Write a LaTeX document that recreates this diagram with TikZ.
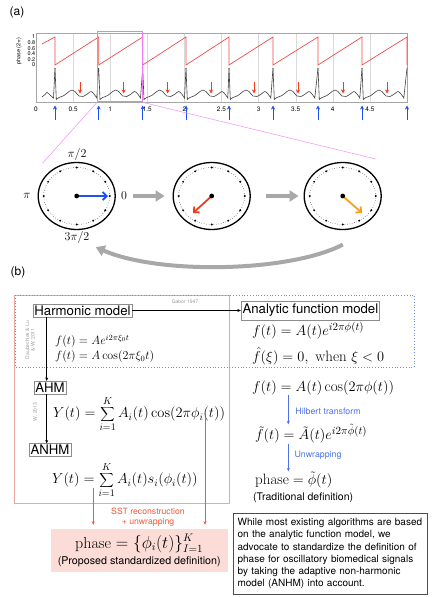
\documentclass[tikz,border=0pt]{standalone}
\usepackage{fontspec}
\setsansfont{TeX Gyre Heros}
\usetikzlibrary{arrows.meta,shapes.geometric}
\definecolor{sawred}{HTML}{EE4B4B}
\definecolor{ablue}{HTML}{1E4FF5}
\definecolor{ared}{HTML}{F03C1E}
\definecolor{aorange}{HTML}{F5A01E}
\definecolor{agray}{HTML}{A8A8A8}
\definecolor{mag}{HTML}{F07AF0}
\definecolor{magl}{HTML}{F59AF5}
\definecolor{dotblue}{HTML}{6F8EE6}
\definecolor{boxred}{HTML}{EBA79F}
\definecolor{pinkfill}{HTML}{FBDCD7}
\definecolor{sstred}{HTML}{EE5B3B}
\definecolor{hblue}{HTML}{4C72EA}
\definecolor{txtgray}{HTML}{9A9A9A}
\newcommand\mysize[2]{\fontsize{#1}{#2}\selectfont}
\begin{document}
\begin{tikzpicture}[x=1pt,y=-1pt,
  mbox/.style={draw=black!45, line width=0.5pt, inner sep=1.5pt, font=\sffamily\mysize{13.2}{15}},
  eqn/.style={anchor=west, inner sep=0pt},
  axlab/.style={font=\sffamily\mysize{6.5}{7}, inner sep=0pt},
  cite/.style={font=\sffamily\mysize{5}{5.5}, text=txtgray, inner sep=0pt, align=center},
  clock/.style={ellipse, draw, line width=1.3pt, minimum width=77pt, minimum height=67pt, inner sep=0pt},
  hand/.style={line width=1.8pt, -{Straight Barb[length=4pt,width=8pt]}},
  flow/.style={agray, line width=4pt, -{Triangle[length=9pt,width=11pt]}},
  uparr/.style={ablue, line width=1pt, -{Stealth[length=4pt,width=4pt]}},
  dnarr/.style={ared, line width=1pt, -{Stealth[length=4pt,width=4pt]}},
  ecg/.style={black!75, line width=0.6pt},
  saw/.style={sawred, line width=0.7pt},
  blk/.style={line width=0.5pt, -{Stealth[length=3.5pt,width=3pt]}},
  sst/.style={sstred, line width=0.6pt, -{Stealth[length=3.5pt,width=3pt]}},
  hil/.style={hblue, line width=0.6pt, -{Stealth[length=3.5pt,width=3pt]}}]
\useasboundingbox (0,0) rectangle (436,597);

% ---------- (a) ----------
\node[font=\sffamily\mysize{12}{14}] (la) at (17,12) {(a)};

% grid & frame
\foreach \v in {0,0.5,1,1.5,2,2.5,3,3.5,4,4.5,5}
  \draw[black!15, line width=0.3pt] ({36+74.2*\v},33) -- ({36+74.2*\v},102);
\draw[black!35, line width=0.4pt] (36,33) rectangle (407,102);

\foreach \v [count=\i] in {0,0.5,1,1.5,2,2.5,3,3.5,4,4.5}
  \node[axlab] (xt\i) at ({36+74.2*\v},109) {\v};
\foreach \v/\y [count=\i] in {1/37,0.8/42.6,0.6/48.2,0.4/53.8,0.2/59.4,0/65}
  \node[axlab, anchor=east, font=\sffamily\mysize{5.5}{6}] (yt\i) at (35.5,\y) {\v};
\node[rotate=90, font=\sffamily\mysize{5.5}{6}] (phl) at (19,51) {phase (2$\pi$)};

% sawtooth phase
\draw[saw] (42,44) -- (55,37) -- (55,65) -- (98.7,37) -- (98.7,65) -- (142.7,37) -- (142.7,65)
  -- (186,37) -- (186,65) -- (229,37) -- (229,65) -- (273,37) -- (273,65)
  -- (318,37) -- (318,65) -- (362,37) -- (362,65) -- (407,37) -- (407,65);

% ECG
\draw[ecg] plot[smooth, tension=0.6] coordinates {(42,97) (45,94.5) (47,92.5) (50,95) (53.5,98)} -- (55,68);
\foreach \a/\b in {55/98.7, 98.7/142.7, 142.7/186, 186/229, 229/273, 273/318, 318/362, 362/407}
  \draw[ecg] (\a,68) -- plot[smooth, tension=0.6] coordinates {({\a+1.3},99.5) ({\a+4},97.5) ({\a+9},95.5) ({\a+14},91.5) ({\a+17},90) ({\a+20},91.5) ({\a+24},96) ({\a+28},96.5) ({\a+33},93.5) ({\a+36},91.5) ({\a+39},94) ({\a+41.8},98)} -- (\b,68);

% arrows
\foreach \x [count=\i] in {55,98.7,142.7,186,229,273,318,362,407}
  \draw[uparr] (\x,119.5) -- (\x,105.5);
\foreach \x [count=\i] in {80,123.7,167.7,211,254,298,343,387}
  \draw[dnarr] (\x,82) -- (\x,93.5);

% zoom box
\node[draw=mag, line width=1.4pt, minimum width=44.6pt, minimum height=70pt, inner sep=0pt] (zb) at (120,66.7) {};
\coordinate (m1) at (42.7,163);
\coordinate (m2) at (375.7,159);
\draw[magl, line width=0.6pt] (zb.south west) -- (m1);
\draw[magl, line width=0.6pt] (zb.south east) -- (m2);

% clocks
\node[clock] (k1) at (76.7,196) {};
\node[clock] (k2) at (211.7,196) {};
\node[clock] (k3) at (342.7,196) {};
\foreach \k in {k1,k2,k3}{
  \begin{scope}[shift={(\k.center)}]
    \draw[dotted, line width=0.45pt] (0,0) ellipse (33pt and 28.5pt);
    \foreach \ang in {0,30,...,330}
      \fill (\ang:33 and 28.5) circle (1.1pt);
  \end{scope}
}
\node[font=\mysize{13}{15}] (lh) at (77,154) {$\pi/2$};
\node[font=\mysize{13}{15}] (l3h) at (77,237) {$3\pi/2$};
\node[font=\mysize{13}{15}] (lpi) at (27,196) {$\pi$};
\node[font=\mysize{13}{15}] (lz) at (124,196) {$0$};

\coordinate (h1) at (108,196);
\coordinate (h2) at (193,213);
\coordinate (h3) at (362,213);
\draw[hand, ablue] (k1.center) -- (h1);
\draw[hand, ared] (k2.center) -- (h2);
\draw[hand, aorange] (k3.center) -- (h3);
\foreach \k in {k1,k2,k3} \fill (\k.center) circle (2.4pt);

\draw[flow] ([xshift=17pt]k1.east) -- ([xshift=-8pt]k2.west);
\draw[flow] ([xshift=15pt]k2.east) -- ([xshift=-5pt]k3.west);
\draw[flow] ([yshift=-14.5pt]k3.south) .. controls (290,272) and (160,275) .. ([xshift=19pt,yshift=-17pt]k1.south);

% ---------- (b) ----------
\node[font=\sffamily\mysize{12}{14}] (lb) at (18,272) {(b)};

\draw[boxred, line width=0.6pt] (14.3,295.5) rectangle (229,503);
\draw[dotblue, dotted, line width=0.8pt] (15.7,295) rectangle (414,367);

\node[mbox] (hm) at (82.5,310.5) {Harmonic model};
\node[mbox, inner ysep=3pt] (afm) at (310.4,310.5) {Analytic function model};
\node[mbox] (ahm) at (50,387.5) {AHM};
\node[mbox] (anhm) at (50,450) {ANHM};

\draw[blk] (hm.east) -- (afm.west);
\node[cite] (gab) at (185,302) {Gabor 1947};
\draw[blk] ([xshift=-3.3pt]ahm.north |- hm.south) -- ([xshift=-3.3pt]ahm.north);
\draw[blk] ([xshift=-3.3pt]ahm.south) -- ([xshift=-3.3pt]anhm.north -| ahm.south);
\node[cite, rotate=90] (dl) at (30,340) {Daubechies \& Lu\\\& W. 2011};
\node[cite, rotate=90] (w13) at (35,412) {W. 2013};

\node[eqn, font=\mysize{12}{14}] (fa) at (55,341.5) {$f(t)=Ae^{i2\pi\xi_0t}$};
\node[eqn, font=\mysize{12}{14}] (fb) at (55,356.5) {$f(t)=A\cos(2\pi\xi_0t)$};
\node[eqn, font=\mysize{14.5}{17}] (y1) at (53,414) {$\displaystyle Y(t)=\sum_{i=1}^K A_i(t)\cos(2\pi\phi_i(t))$};
\node[eqn, font=\mysize{14.5}{17}] (y2) at (52,480) {$\displaystyle Y(t)=\sum_{i=1}^K A_i(t)s_i(\phi_i(t))$};

\node[fill=pinkfill, minimum width=177pt, minimum height=43pt, align=center, inner sep=0pt] (pb) at (139.2,550.5)
  {\mysize{16}{16}$\mathrm{phase}=\{\phi_i(t)\}_{I=1}^K$\\[3pt]{\sffamily\mysize{10.7}{12}(Proposed standardized definition)}};
\node[font=\sffamily\mysize{8.7}{10.3}, text=sstred, align=center] (sst) at (148,517) {SST reconstruction\\+ unwrapping};
\coordinate (s1) at (93.3,488);
\coordinate (s2) at (205,418);
\draw[sst, shorten >=4pt] (s1) -- (s1 |- pb.north);
\draw[sst, shorten >=4pt] (s2) -- (s2 |- pb.north);

% right column
\node[eqn, font=\mysize{15}{17}] (r1) at (252,331) {$f(t)=A(t)e^{i2\pi\phi(t)}$};
\node[eqn, font=\mysize{15}{17}] (r2) at (252,356) {$\hat f(\xi)=0,\ \mathrm{when}\ \xi<0$};
\node[eqn, font=\mysize{15}{17}] (r3) at (252,388) {$f(t)=A(t)\cos(2\pi\phi(t))$};
\node[eqn, font=\mysize{15}{17}] (r4) at (255,434) {$\tilde f(t)=\tilde A(t)e^{i2\pi\tilde\phi(t)}$};
\node[eqn, font=\mysize{15}{17}] (r5) at (255,480) {$\mathrm{phase}=\tilde\phi(t)$};
\node[eqn, font=\sffamily\mysize{10.5}{12}] (td) at (253,498) {(Traditional definition)};
\coordinate (hb) at (288.3,0);
\draw[hil] (r3.south -| hb) -- (r4.north -| hb);
\draw[hil] (r4.south -| hb) -- (r5.north -| hb);
\node[font=\sffamily\mysize{8.8}{10}, text=hblue] (ht) at (328,411.7) {Hilbert transform};
\node[font=\sffamily\mysize{8.8}{10}, text=hblue] (uw) at (318,455) {Unwrapping};

\node[draw=black!70, line width=0.6pt, anchor=north west, text width=186pt, inner xsep=4pt, inner ysep=3pt,
  minimum height=81.3pt, align=left, font=\sffamily\mysize{10}{12.3}] (note) at (233.3,512.7)
  {While most existing algorithms are based\\ on the analytic function model, we\\ advocate to standardize the definition of\\ phase for oscillatory biomedical signals\\ by taking the adaptive non-harmonic\\ model (ANHM) into account.};
\end{tikzpicture}
\end{document}
